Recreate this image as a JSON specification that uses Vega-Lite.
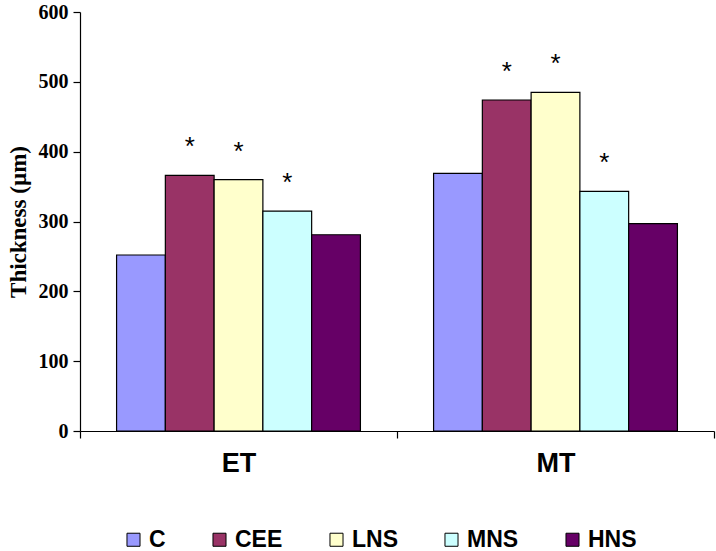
{
  "$schema": "https://vega.github.io/schema/vega-lite/v6.json",
  "width": 634,
  "height": 419,
  "autosize": {"type": "none"},
  "padding": {"left": 80, "top": 12, "right": 2, "bottom": 120},
  "background": "white",
  "config": {"view": {"stroke": null}},
  "data": {
    "values": [
      {"stage": "ET", "group": "C", "value": 252, "sig": ""},
      {"stage": "ET", "group": "CEE", "value": 366, "sig": "*"},
      {"stage": "ET", "group": "LNS", "value": 360, "sig": "*"},
      {"stage": "ET", "group": "MNS", "value": 315, "sig": "*"},
      {"stage": "ET", "group": "HNS", "value": 281, "sig": ""},
      {"stage": "MT", "group": "C", "value": 369, "sig": ""},
      {"stage": "MT", "group": "CEE", "value": 474, "sig": "*"},
      {"stage": "MT", "group": "LNS", "value": 485, "sig": "*"},
      {"stage": "MT", "group": "MNS", "value": 343, "sig": "*"},
      {"stage": "MT", "group": "HNS", "value": 297, "sig": ""}
    ]
  },
  "encoding": {
    "x": {
      "field": "stage", "type": "nominal",
      "scale": {"paddingInner": 0, "paddingOuter": 0},
      "axis": {
        "title": null, "labelAngle": 0, "tickBand": "extent",
        "labelFont": "Liberation Sans", "labelFontWeight": "bold", "labelFontSize": 27,
        "labelColor": "black", "labelPadding": 12, "tickSize": 7,
        "domainColor": "black", "tickColor": "black", "domainWidth": 1.2, "tickWidth": 1.2
      }
    },
    "xOffset": {
      "field": "group", "type": "nominal",
      "sort": ["C", "CEE", "LNS", "MNS", "HNS"],
      "scale": {"paddingInner": 0, "paddingOuter": 0.75}
    },
    "y": {
      "field": "value", "type": "quantitative",
      "scale": {"domain": [0, 600], "nice": false},
      "axis": {
        "title": "Thickness (µm)", "titleFont": "Liberation Serif", "titleFontSize": 23,
        "titleFontWeight": "bold", "titleColor": "black", "titlePadding": 8,
        "values": [0, 100, 200, 300, 400, 500, 600], "grid": false,
        "labelFont": "Liberation Sans Narrow", "labelFontWeight": "bold", "labelFontSize": 20,
        "labelColor": "black", "labelPadding": 5, "tickSize": 7,
        "domainColor": "black", "tickColor": "black", "domainWidth": 1.2, "tickWidth": 1.2
      }
    }
  },
  "layer": [
    {
      "mark": {"type": "bar", "stroke": "black", "strokeWidth": 1.2},
      "encoding": {
        "color": {
          "field": "group", "type": "nominal",
          "sort": ["C", "CEE", "LNS", "MNS", "HNS"],
          "scale": {
            "domain": ["C", "CEE", "LNS", "MNS", "HNS"],
            "range": ["#9999FF", "#993366", "#FFFFCC", "#CCFFFF", "#660066"]
          },
          "legend": {
            "title": null, "orient": "none", "direction": "horizontal", "columns": 5,
            "gridAlign": "each",
            "legendX": 42, "legendY": 516, "symbolType": "square", "symbolSize": 170,
            "symbolStrokeColor": "black", "symbolStrokeWidth": 1, "symbolOpacity": 1,
            "labelFont": "Liberation Sans", "labelFontWeight": "bold", "labelFontSize": 23,
            "labelColor": "black", "columnPadding": 42, "labelOffset": 4
          }
        }
      }
    },
    {
      "transform": [{"filter": "datum.sig == '*'"}],
      "mark": {"type": "text", "dy": -28, "fontSize": 26, "font": "Liberation Sans", "color": "black", "baseline": "middle"},
      "encoding": {"text": {"field": "sig"}}
    }
  ]
}
